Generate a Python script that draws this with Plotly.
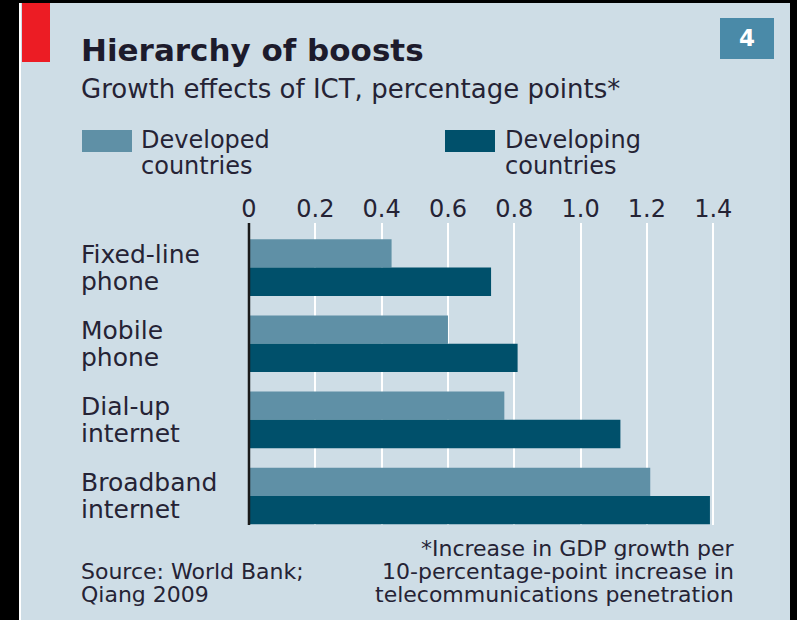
import plotly.graph_objects as go

# ---- data ----
categories = ["Fixed-line<br>phone", "Mobile<br>phone", "Dial-up<br>internet", "Broadband<br>internet"]
developed = [0.43, 0.60, 0.77, 1.21]
developing = [0.73, 0.81, 1.12, 1.39]
tick_vals = [0, 0.2, 0.4, 0.6, 0.8, 1.0, 1.2, 1.4]
tick_text = ["0", "0.2", "0.4", "0.6", "0.8", "1.0", "1.2", "1.4"]
series_names = ["Developed<br>countries", "Developing<br>countries"]

title = "Hierarchy of boosts"
subtitle = "Growth effects of ICT, percentage points*"
source = "Source: World Bank;<br>Qiang 2009"
note = "*Increase in GDP growth per<br>10-percentage-point increase in<br>telecommunications penetration"
chart_no = "4"

# ---- style ----
W, H = 797, 620
ML, MR, MT, MB = 247, 67, 223, 95
PW, PH = W - ML - MR, H - MT - MB
BG = "#cedde6"
C_DEV = "#5f90a6"
C_DVG = "#00506b"
TXT = "#252335"
FONT = "DejaVu Sans"


def px(x):
    return (x - ML) / PW


def py(y):
    return (H - MB - y) / PH


fig = go.Figure()
fig.add_trace(go.Bar(y=list(range(len(categories))), x=developed, orientation="h",
                     marker=dict(color=C_DEV, line=dict(width=0)), name=series_names[0],
                     showlegend=False))
fig.add_trace(go.Bar(y=list(range(len(categories))), x=developing, orientation="h",
                     marker=dict(color=C_DVG, line=dict(width=0)), name=series_names[1],
                     showlegend=False))

shapes = [
    dict(type="rect", xref="paper", yref="paper", x0=px(21), x1=px(790), y0=py(622), y1=py(3),
         fillcolor=BG, line=dict(width=0), layer="below"),
    dict(type="rect", xref="paper", yref="paper", x0=px(19), x1=px(21), y0=py(622), y1=py(3),
         fillcolor="#ffffff", line=dict(width=0), layer="below"),
    dict(type="rect", xref="paper", yref="paper", x0=px(22), x1=px(50), y0=py(62), y1=py(3),
         fillcolor="#ec1c24", line=dict(width=0), layer="below"),
    dict(type="rect", xref="paper", yref="paper", x0=px(720), x1=px(774), y0=py(59), y1=py(18),
         fillcolor="#4a8aa8", line=dict(width=0), layer="below"),
    dict(type="rect", xref="paper", yref="paper", x0=px(82), x1=px(132), y0=py(152), y1=py(130),
         fillcolor=C_DEV, line=dict(width=0)),
    dict(type="rect", xref="paper", yref="paper", x0=px(445), x1=px(495), y0=py(152), y1=py(130),
         fillcolor=C_DVG, line=dict(width=0)),
    dict(type="line", xref="x", yref="paper", x0=0, x1=0, y0=0, y1=1,
         line=dict(color="#1a1a1a", width=2.5), layer="above"),
]


def ann(text, x, y, size, anchor="left", bold=False, color=TXT):
    return dict(text=("<b>%s</b>" % text) if bold else text, x=px(x), y=py(y),
                xref="paper", yref="paper", xanchor=anchor, yanchor="middle",
                showarrow=False, font=dict(size=size, color=color, family=FONT))


annotations = [
    ann(title, 79, 50, 31, bold=True, color="#1d1b2c"),
    ann(subtitle, 79, 89, 26),
    ann(chart_no, 747, 38, 23, anchor="center", bold=True, color="#ffffff"),
]
for k, (name, x0) in enumerate(zip(series_names, [139, 503])):
    for j, line in enumerate(name.split("<br>")):
        annotations.append(ann(line, x0, 140 + 26 * j, 24))
for j, line in enumerate(source.split("<br>")):
    annotations.append(ann(line, 79, 571 + 23 * j, 22))
for j, line in enumerate(note.split("<br>")):
    annotations.append(ann(line, 736, 548 + 23 * j, 22, anchor="right"))
for i, c in enumerate(categories):
    for j, line in enumerate(c.split("<br>")):
        annotations.append(dict(text=line, x=px(79), y=i, xref="paper", yref="y",
                                yshift=13.5 - 27 * j, xanchor="left", yanchor="middle",
                                showarrow=False, font=dict(size=25, color=TXT, family=FONT)))

fig.update_layout(
    width=W, height=H,
    margin=dict(l=ML, r=MR, t=MT, b=MB, pad=0),
    paper_bgcolor="#000000", plot_bgcolor="rgba(0,0,0,0)",
    barmode="group", bargap=0.255, bargroupgap=0,
    shapes=shapes, annotations=annotations,
    xaxis=dict(side="top", range=[-0.006, 1.4505], tickvals=tick_vals, ticktext=tick_text,
               showgrid=True, gridcolor="#ffffff", gridwidth=2, zeroline=False,
               showline=False, ticks="", tickfont=dict(size=24, color=TXT, family=FONT),
               fixedrange=True),
    yaxis=dict(range=[3.381, -0.586], showticklabels=False, showgrid=False, zeroline=False,
               showline=False, ticks="", fixedrange=True),
    font=dict(family=FONT, color=TXT),
)

fig.write_html("out.html", config={"displayModeBar": False},
               post_script="document.body.style.margin='0';document.body.style.background='#000';")
